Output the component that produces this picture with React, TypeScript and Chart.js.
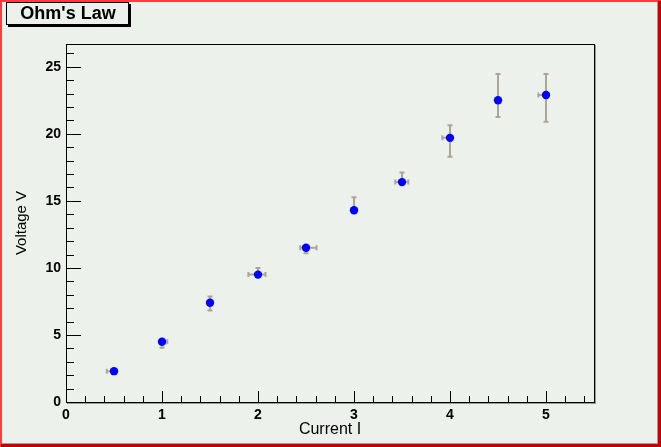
import React, { useEffect, useRef } from 'react';
import { Chart, registerables } from 'chart.js';

Chart.register(...registerables);

// ---- data ----
const currentI = [0.5, 1, 1.5, 2, 2.5, 3, 3.5, 4, 4.5, 5];
const voltageV = [2.3, 4.5, 7.4, 9.5, 11.5, 14.3, 16.4, 19.7, 22.5, 22.9];
const errIlow = [0.075, 0.03, 0.03, 0.1, 0.06, 0.03, 0.07, 0.08, 0.03, 0.08];
const errIhigh = [0.03, 0.055, 0.03, 0.078, 0.11, 0.03, 0.065, 0.03, 0.03, 0.03];
const errVlow = [0.2, 0.45, 0.57, 0.2, 0.4, 0.2, 0.2, 1.4, 1.25, 2.0];
const errVhigh = [0.2, 0.2, 0.47, 0.5, 0.2, 0.97, 0.72, 0.94, 1.96, 1.57];

const xMajorTicks = [0, 1, 2, 3, 4, 5];
const yMajorTicks = [0, 5, 10, 15, 20, 25];
const xMinorStep = 0.2;
const yMinorStep = 1;
const xMin = 0;
const xMax = 5.5;
const yMin = 0;
const yMax = 26.7;

const chartTitle = "Ohm's Law";
const xTitle = 'Current I';
const yTitle = 'Voltage V';

// ---- styles ----
const BG = '#edf1ec';
const FONT = '"Liberation Sans", Arial, Helvetica, sans-serif';
const ERR = '#aea595';

const rootPlugin = {
  id: 'rootStyle',
  beforeDraw(chart: any) {
    const { ctx, width, height } = chart;
    ctx.save();
    ctx.fillStyle = BG;
    ctx.fillRect(0, 0, width, height);
    ctx.restore();
  },
  beforeDatasetsDraw(chart: any) {
    const { ctx } = chart;
    const xs = chart.scales.x;
    const ys = chart.scales.y;
    const R = 4.5;
    const cap = 2.5;
    ctx.save();
    ctx.strokeStyle = ERR;
    ctx.lineWidth = 2;
    for (let i = 0; i < currentI.length; i++) {
      const cx = xs.getPixelForValue(currentI[i]);
      const cy = ys.getPixelForValue(voltageV[i]);
      const top = ys.getPixelForValue(voltageV[i] + errVhigh[i]);
      const bot = ys.getPixelForValue(voltageV[i] - errVlow[i]);
      const lft = xs.getPixelForValue(currentI[i] - errIlow[i]);
      const rgt = xs.getPixelForValue(currentI[i] + errIhigh[i]);
      ctx.beginPath();
      if (cy - top > R) {
        ctx.moveTo(cx, cy); ctx.lineTo(cx, top);
        ctx.moveTo(cx - cap, top); ctx.lineTo(cx + cap, top);
      }
      if (bot - cy > R) {
        ctx.moveTo(cx, cy); ctx.lineTo(cx, bot);
        ctx.moveTo(cx - cap, bot); ctx.lineTo(cx + cap, bot);
      }
      if (cx - lft > R) {
        ctx.moveTo(cx, cy); ctx.lineTo(lft, cy);
        ctx.moveTo(lft, cy - cap); ctx.lineTo(lft, cy + cap);
      }
      if (rgt - cx > R) {
        ctx.moveTo(cx, cy); ctx.lineTo(rgt, cy);
        ctx.moveTo(rgt, cy - cap); ctx.lineTo(rgt, cy + cap);
      }
      ctx.stroke();
    }
    ctx.restore();
  },
  afterDraw(chart: any) {
    const { ctx, width, height, chartArea } = chart;
    const xs = chart.scales.x;
    const ys = chart.scales.y;
    const L = Math.round(chartArea.left);
    const T = Math.round(chartArea.top);
    const Rr = Math.round(chartArea.right);
    const B = Math.round(chartArea.bottom);
    ctx.save();

    // frame shadow
    ctx.strokeStyle = '#9a9a9a';
    ctx.lineWidth = 1;
    ctx.beginPath();
    ctx.moveTo(Rr + 1.5, T + 1); ctx.lineTo(Rr + 1.5, B + 2);
    ctx.moveTo(L + 1, B + 1.5); ctx.lineTo(Rr + 2, B + 1.5);
    ctx.stroke();

    // frame
    ctx.strokeStyle = '#000';
    ctx.lineWidth = 1;
    ctx.strokeRect(L + 0.5, T + 0.5, Rr - L, B - T);

    // ticks
    ctx.beginPath();
    const xMajorLen = 11, xMinorLen = 6, yMajorLen = 15, yMinorLen = 8;
    for (let k = 0; xMin + k * xMinorStep <= xMax + 1e-9; k++) {
      const v = xMin + k * xMinorStep;
      const isMajor = xMajorTicks.some((m) => Math.abs(m - v) < 1e-6);
      const px = Math.round(xs.getPixelForValue(v)) + 0.5;
      const len = isMajor ? xMajorLen : xMinorLen;
      ctx.moveTo(px, B); ctx.lineTo(px, B - len);
    }
    for (let k = 0; yMin + k * yMinorStep <= yMax + 1e-9; k++) {
      const v = yMin + k * yMinorStep;
      const isMajor = yMajorTicks.some((m) => Math.abs(m - v) < 1e-6);
      const py = Math.round(ys.getPixelForValue(v)) + 0.5;
      const len = isMajor ? yMajorLen : yMinorLen;
      ctx.moveTo(L, py); ctx.lineTo(L + len, py);
    }
    ctx.stroke();

    // canvas border (bevel)
    ctx.fillStyle = '#ff3b3b';
    ctx.fillRect(0, 0, width, 2);
    ctx.fillRect(0, 0, 2, height);
    ctx.fillStyle = '#9c9c9c';
    ctx.fillRect(width - 4, 2, 1, height - 5);
    ctx.fillRect(2, height - 4, width - 5, 1);
    ctx.fillStyle = '#c40000';
    ctx.fillRect(width - 3, 1, 3, height - 1);
    ctx.fillRect(1, height - 3, width - 1, 3);

    // title box
    const bx = 6, by = 2, bw = 122, bh = 22;
    ctx.fillStyle = '#000';
    ctx.fillRect(bx + 2, by + 2, bw + 1, bh + 1);
    ctx.fillStyle = BG;
    ctx.fillRect(bx, by, bw, bh);
    ctx.strokeStyle = '#000';
    ctx.lineWidth = 1;
    ctx.strokeRect(bx + 0.5, by + 0.5, bw, bh);
    ctx.fillStyle = '#000';
    ctx.font = `bold 18px ${FONT}`;
    ctx.textAlign = 'center';
    ctx.textBaseline = 'middle';
    ctx.fillText(chartTitle, bx + bw / 2 + 1, by + bh / 2 + 1);

    ctx.restore();
  },
};

export default function App() {
  const canvasRef = useRef<HTMLCanvasElement | null>(null);

  useEffect(() => {
    document.body.style.margin = '0';
    const canvas = canvasRef.current;
    if (!canvas) return;
    const points = currentI.map((x, i) => ({ x, y: voltageV[i] }));
    const chart = new Chart(canvas, {
      type: 'scatter',
      data: {
        datasets: [
          {
            label: 'data',
            data: points,
            pointRadius: 4.2,
            pointHoverRadius: 4.2,
            pointBackgroundColor: '#0000ff',
            pointBorderColor: '#0000ff',
            pointBorderWidth: 0,
            showLine: false,
          },
        ],
      },
      options: {
        responsive: false,
        animation: false,
        events: [],
        layout: { padding: { top: 44, right: 67, left: 0, bottom: 0 } },
        plugins: {
          legend: { display: false },
          tooltip: { enabled: false },
          title: { display: false },
        },
        scales: {
          x: {
            type: 'linear',
            min: xMin,
            max: xMax,
            afterBuildTicks: (scale: any) => {
              scale.ticks = xMajorTicks.map((v) => ({ value: v }));
            },
            afterFit: (scale: any) => {
              scale.height = 45;
            },
            grid: { display: false, drawTicks: false },
            border: { display: false },
            ticks: {
              autoSkip: false,
              maxRotation: 0,
              padding: 5,
              color: '#000',
              font: { family: FONT, size: 14, weight: 'bold' },
              callback: (v: any) => String(v),
            },
            title: {
              display: true,
              text: xTitle,
              color: '#000',
              font: { family: FONT, size: 16 },
              padding: { top: 0, bottom: 8 },
            },
          },
          y: {
            type: 'linear',
            min: yMin,
            max: yMax,
            afterBuildTicks: (scale: any) => {
              scale.ticks = yMajorTicks.map((v) => ({ value: v }));
            },
            afterFit: (scale: any) => {
              scale.width = 66;
            },
            grid: { display: false, drawTicks: false },
            border: { display: false },
            ticks: {
              autoSkip: false,
              padding: 5,
              color: '#000',
              font: { family: FONT, size: 14, weight: 'bold' },
              callback: (v: any) => String(v),
            },
            title: {
              display: true,
              text: yTitle,
              color: '#000',
              font: { family: FONT, size: 15 },
              padding: { top: 13, bottom: 0 },
            },
          },
        },
      },
      plugins: [rootPlugin],
    } as any);
    return () => chart.destroy();
  }, []);

  return (
    <div style={{ width: 661, height: 447 }}>
      <canvas ref={canvasRef} width={661} height={447} style={{ display: 'block' }} />
    </div>
  );
}
